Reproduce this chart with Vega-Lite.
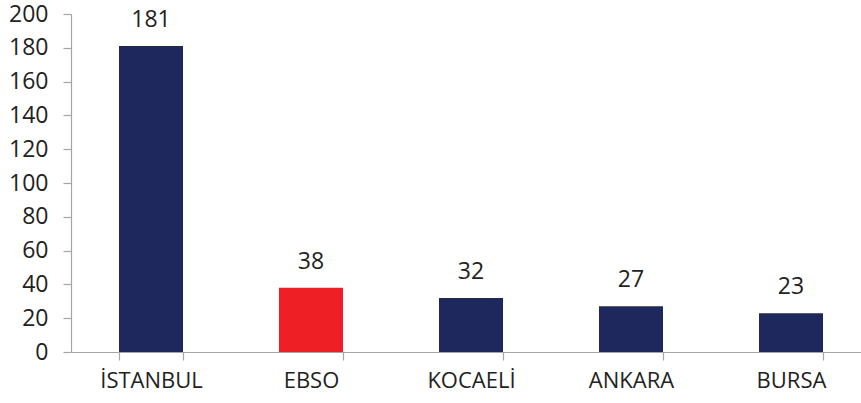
{
  "$schema": "https://vega.github.io/schema/vega-lite/v6.json",
  "autosize": "none",
  "padding": {"left": 71, "top": 14, "right": 0, "bottom": 51},
  "width": 800,
  "height": 338,
  "background": "white",
  "config": {"view": {"stroke": null}, "font": "Open Sans"},
  "data": {"values": [
    {"city": "İSTANBUL", "value": 181, "group": "other"},
    {"city": "EBSO", "value": 38, "group": "ebso"},
    {"city": "KOCAELİ", "value": 32, "group": "other"},
    {"city": "ANKARA", "value": 27, "group": "other"},
    {"city": "BURSA", "value": 23, "group": "other"}
  ]},
  "encoding": {
    "x": {"field": "city", "type": "nominal", "sort": null,
      "scale": {"paddingInner": 0.6, "paddingOuter": 0.3},
      "axis": {"title": null, "labelAngle": 0, "labelFontSize": 22, "labelColor": "#222222",
        "domainColor": "#A6A6A6", "tickColor": "#A6A6A6", "tickSize": 8, "tickBand": "extent",
        "labelPadding": 10, "domainWidth": 1.2, "tickWidth": 1.2}},
    "y": {"field": "value", "type": "quantitative",
      "scale": {"domain": [0, 200], "nice": false},
      "axis": {"title": null, "values": [0,20,40,60,80,100,120,140,160,180,200], "grid": false,
        "labelFontSize": 23, "labelColor": "#222222", "domainColor": "#A6A6A6", "tickColor": "#A6A6A6",
        "tickSize": 8, "labelPadding": 15, "domainWidth": 1.2, "tickWidth": 1.2}}
  },
  "layer": [
    {"mark": {"type": "bar"},
     "encoding": {"color": {"field": "group", "type": "nominal",
       "scale": {"domain": ["other", "ebso"], "range": ["#1F285C", "#EE1F25"]}, "legend": null}}},
    {"mark": {"type": "text", "baseline": "bottom", "dy": -14, "fontSize": 23, "color": "#222222"},
     "encoding": {"text": {"field": "value", "type": "quantitative"}}}
  ]
}
